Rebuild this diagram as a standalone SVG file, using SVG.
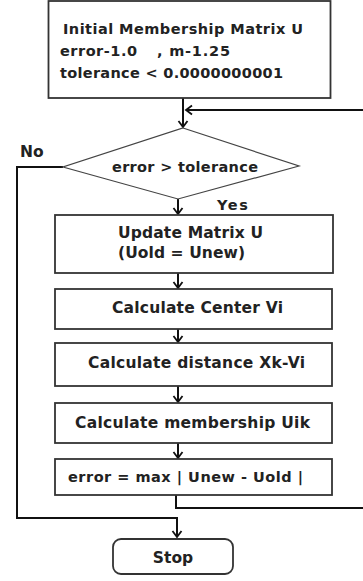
<svg xmlns="http://www.w3.org/2000/svg" width="363" height="581" viewBox="0 0 363 581">
<style>
.box{fill:#fff;stroke:#333;stroke-width:1.8}
.dia{fill:#fff;stroke:#444;stroke-width:1.2}
.t{font-family:"DejaVu Sans",sans-serif;font-weight:bold;font-size:15.5px;fill:#222}
.s{font-size:14.5px}
.c{fill:none;stroke:#111;stroke-width:2}
</style>
<defs>
<marker id="ah" markerUnits="userSpaceOnUse" markerWidth="12" markerHeight="12" refX="0" refY="0" viewBox="-8 -6 10 12" orient="auto" overflow="visible">
<path d="M-6,-4.5 L0,0 L-6,4.5" fill="none" stroke="#111" stroke-width="1.8"/>
</marker>
</defs>
<rect width="363" height="581" fill="#fff"/>
<g id="connectors">
<path class="c" d="M183,98 V127" marker-end="url(#ah)"/>
<path class="c" d="M176,495 V508 H366 V110 H186" marker-end="url(#ah)"/>
<path class="c" d="M178,199 V214" marker-end="url(#ah)"/>
<path class="c" d="M178,273 V288" marker-end="url(#ah)"/>
<path class="c" d="M178,329 V342" marker-end="url(#ah)"/>
<path class="c" d="M178,386 V402" marker-end="url(#ah)"/>
<path class="c" d="M178,443 V458" marker-end="url(#ah)"/>
<path class="c" d="M63,167 H17 V518 H177 V537" marker-end="url(#ah)"/>
</g>
<g id="init">
<rect class="box" x="48.5" y="1" width="282" height="97"/>
<text class="t s" x="63" y="34" textLength="240">Initial Membership Matrix U</text>
<text class="t s" x="60" y="56" textLength="77">error-1.0</text>
<text class="t s" x="157" y="56" textLength="73">, m-1.25</text>
<text class="t s" x="60" y="78" textLength="223">tolerance &lt; 0.0000000001</text>
</g>
<g id="decision">
<polygon class="dia" points="183,128 299,166 178,199 63,167"/>
<text class="t s" x="112" y="172" textLength="146">error &gt; tolerance</text>
</g>
<text class="t" x="20" y="157" font-size="13.5">No</text>
<text class="t s" x="217" y="210" textLength="31">Yes</text>
<g id="update">
<rect class="box" x="55" y="215" width="278" height="58"/>
<text class="t" x="118" y="238" textLength="145">Update Matrix U</text>
<text class="t" x="118" y="258" textLength="127">(Uold = Unew)</text>
</g>
<g id="center">
<rect class="box" x="55" y="289" width="277" height="40"/>
<text class="t" x="112" y="313" textLength="171">Calculate Center Vi</text>
</g>
<g id="distance">
<rect class="box" x="55" y="343" width="277" height="43"/>
<text class="t" x="88" y="368" textLength="217">Calculate distance Xk-Vi</text>
</g>
<g id="membership">
<rect class="box" x="55" y="403" width="277" height="40"/>
<text class="t" x="75" y="428" textLength="235">Calculate membership Uik</text>
</g>
<g id="error">
<rect class="box" x="55" y="459" width="277" height="36"/>
<text class="t s" x="68" y="482" textLength="235">error = max | Unew - Uold |</text>
</g>
<g id="stop">
<rect class="box" x="113" y="539" width="120" height="35" rx="8"/>
<text class="t" x="173" y="563" text-anchor="middle">Stop</text>
</g>
</svg>
